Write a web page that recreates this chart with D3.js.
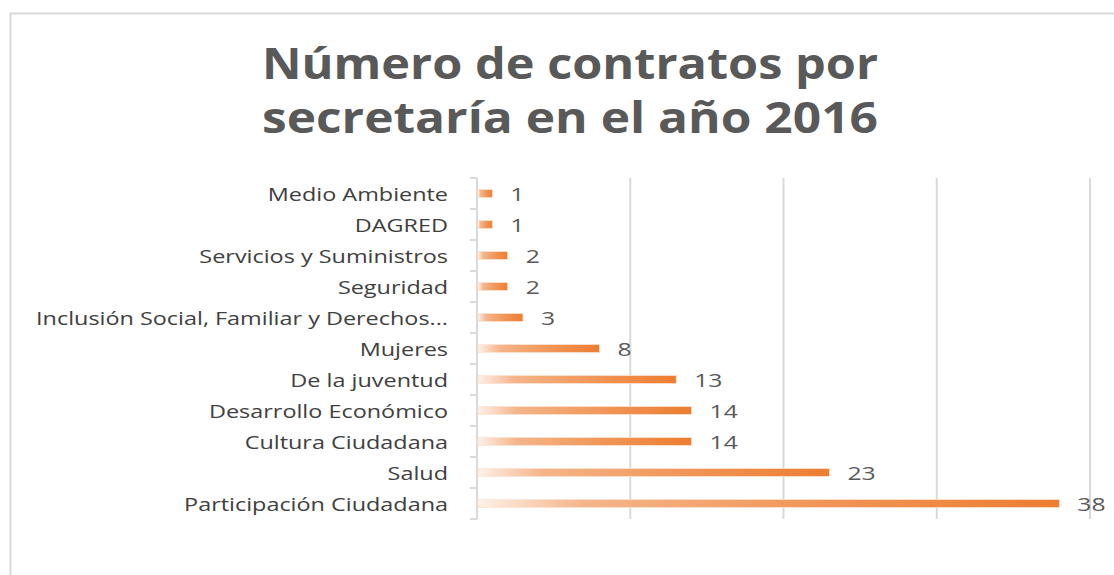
<!DOCTYPE html>
<html>
<head>
<meta charset="utf-8">
<script src="https://cdn.jsdelivr.net/npm/d3@7"></script>
<style>
  body { margin: 0; background: #fff; }
  text { font-family: "Open Sans", "Noto Sans", sans-serif; }
</style>
</head>
<body>
<script>
const svgWidth = 1114;
const svgHeight = 575;

// data, top to bottom as in the picture
const categories = [
    'Medio Ambiente',
    'DAGRED',
    'Servicios y Suministros',
    'Seguridad',
    'Inclusión Social, Familiar y Derechos...',
    'Mujeres',
    'De la juventud',
    'Desarrollo Económico',
    'Cultura Ciudadana',
    'Salud',
    'Participación Ciudadana'
];
const contratos = [1, 1, 2, 2, 3, 8, 13, 14, 14, 23, 38];
const xTicks = [0, 10, 20, 30, 40];
const titleLines = ['Número de contratos por', 'secretaría en el año 2016'];

const data = categories.map((c, i) => ({name: c, value: contratos[i]}));

const margin = {left: 477, right: 24, top: 178, bottom: 56};
// the reference text is drawn wide, stretch it to match
const stretch = 1.3;

const svg = d3
.select('body')
.append('svg')
.attr('width', svgWidth)
.attr('height', svgHeight)

// gradient for the bars, white on the left to orange on the right
const grad = svg.append('defs').append('linearGradient')
.attr('id', 'barGrad')
.attr('x1', '0%').attr('x2', '100%')
.attr('y1', '0%').attr('y2', '0%')
grad.append('stop').attr('offset', '0%').attr('stop-color', '#fdf1e9')
grad.append('stop').attr('offset', '18%').attr('stop-color', '#f5b58a')
grad.append('stop').attr('offset', '60%').attr('stop-color', '#f19556')
grad.append('stop').attr('offset', '100%').attr('stop-color', '#ed7d31')

// chart border
svg.append('rect')
.attr('x', 10.5)
.attr('y', 13.5)
.attr('width', 1120)
.attr('height', 600)
.attr('fill', 'none')
.attr('stroke', '#d9d9d9')
.attr('stroke-width', 2)

// title
svg.append('g')
.selectAll('text')
.data(titleLines).enter()
.append('text')
.attr('x', 262)
.attr('y', (d, i) => 79 + i * 54)
.attr('textLength', 616)
.attr('lengthAdjust', 'spacingAndGlyphs')
.attr('fill', '#595959')
.attr('font-size', 43)
.attr('font-weight', 'bold')
.text((d) => d)

const x = d3.scaleLinear()
.domain([0, 40])
.range([margin.left, svgWidth - margin.right]);

const y = d3.scaleBand()
.domain(categories)
.range([margin.top, svgHeight - margin.bottom])
.paddingInner(0.74)
.paddingOuter(0.37);

// vertical gridlines
svg.append('g')
.selectAll('line')
.data(xTicks.slice(1)).enter()
.append('line')
.attr('x1', (d) => x(d))
.attr('x2', (d) => x(d))
.attr('y1', margin.top)
.attr('y2', svgHeight - margin.bottom)
.attr('stroke', '#d9d9d9')
.attr('stroke-width', 2)

// category axis with ticks between categories
const yAxis = svg.append('g')
.attr('transform', `translate(${margin.left}, 0)`)
.call(d3.axisLeft(y).tickSize(0).tickPadding(29))

yAxis.select('.domain').remove()
yAxis.selectAll('text')
.attr('font-size', 18)
.attr('dy', '0.4em')
.attr('fill', '#404040')
.style('font-family', '"Open Sans", sans-serif')
.each(function () {
    const len = this.getComputedTextLength();
    d3.select(this)
    .attr('textLength', len * stretch)
    .attr('lengthAdjust', 'spacingAndGlyphs')
})

const step = y.step();
const bounds = d3.range(categories.length + 1).map((i) => y.range()[0] + i * step);
yAxis.append('line')
.attr('x1', 0).attr('x2', 0)
.attr('y1', bounds[0]).attr('y2', bounds[bounds.length - 1])
.attr('stroke', '#d9d9d9')
.attr('stroke-width', 2)
yAxis.selectAll('.sep')
.data(bounds).enter()
.append('line')
.attr('class', 'sep')
.attr('x1', -7).attr('x2', 0)
.attr('y1', (d) => d).attr('y2', (d) => d)
.attr('stroke', '#d9d9d9')
.attr('stroke-width', 2)

// bars
svg.append('g')
.selectAll('rect')
.data(data).enter()
.append('rect')
.attr('x', x(0) + 1)
.attr('y', (d) => y(d.name))
.attr('width', (d) => x(d.value) - x(0) - 1)
.attr('height', y.bandwidth())
.attr('fill', 'url(#barGrad)')
.attr('stroke', '#fbe3d3')
.attr('stroke-width', 0.8)

// value labels
svg.append('g')
.selectAll('text')
.data(data).enter()
.append('text')
.attr('x', (d) => x(d.value) + 18)
.attr('y', (d) => y(d.name) + y.bandwidth() / 2)
.attr('dy', '0.38em')
.attr('font-size', 19)
.attr('fill', '#595959')
.text((d) => d.value)
.each(function () {
    const len = this.getComputedTextLength();
    d3.select(this)
    .attr('textLength', len * stretch)
    .attr('lengthAdjust', 'spacingAndGlyphs')
})
</script>
</body>
</html>
